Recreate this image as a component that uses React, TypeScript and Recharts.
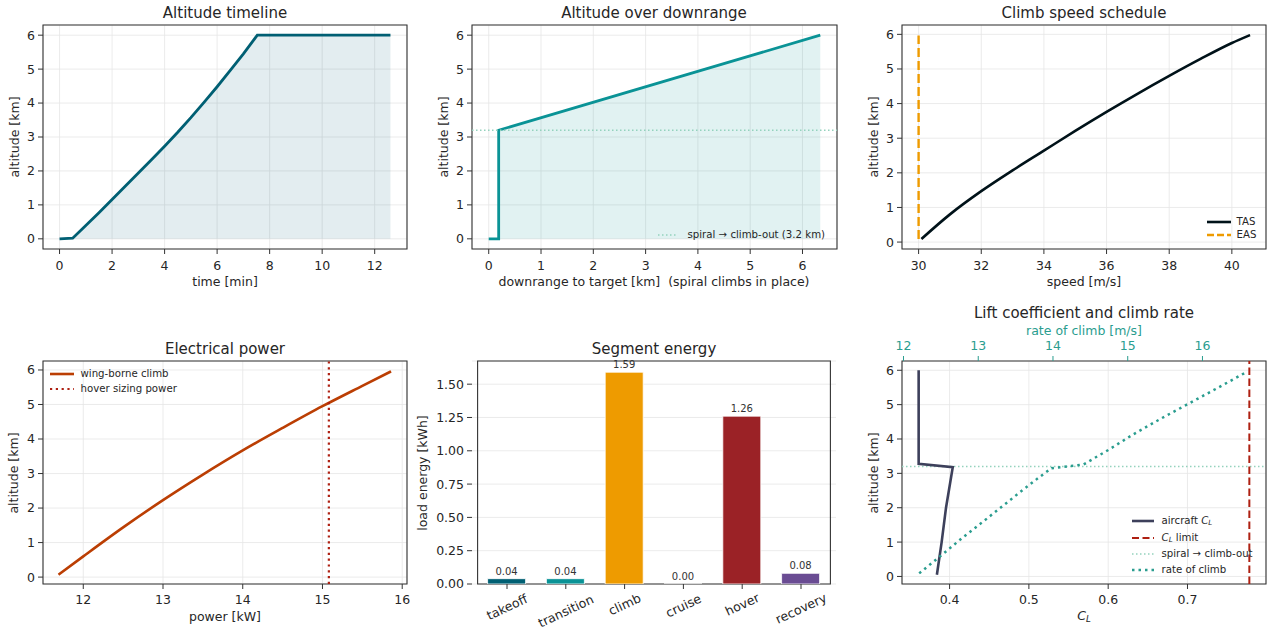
import React from "react";
import {
  ComposedChart,
  BarChart,
  Bar,
  Line,
  Area,
  XAxis,
  YAxis,
  CartesianGrid,
  ReferenceLine,
  ReferenceArea,
  Cell,
  LabelList,
} from "recharts";

const FONT = '"DejaVu Sans", Verdana, sans-serif';
const INK = "#262626";
const FRAME = "#333333";
const GRID = "#e6e6e6";
const TICK_FS = 12.5;
const LABEL_FS = 12.5;
const TITLE_FS = 15;
const LEGEND_FS = 10.2;

// palette
const DEEP = "#005f73";
const TEAL = "#0a9396";
const MINT = "#94d2bd";
const AMBER = "#ee9b00";
const RUST = "#bb3e03";
const RED = "#ae2012";
const WINE = "#9b2226";
const NIGHT = "#001219";
const SLATE = "#3d405b";
const SEA = "#2a9d8f";
const PLUM = "#6a4c93";

// ---- mission data ----
const SPIRAL_ALT_KM = 3.2;
const ALT_TICKS = [0, 1, 2, 3, 4, 5, 6];

// altitude timeline
const timelineMin = [0, 0.5, 1, 1.5, 2, 2.5, 3, 3.5, 4, 4.5, 5, 5.5, 6, 6.5, 7, 7.53, 12.6];
const timelineAltKm = [0, 0.02, 0.39, 0.77, 1.16, 1.55, 1.94, 2.33, 2.73, 3.14, 3.57, 4.02, 4.48, 4.96, 5.45, 6.0, 6.0];

// ground track: spiral in place, then straight climb-out
const downrangeKm = [0, 0.19, 0.19, 6.34];
const downrangeAltKm = [0, 0, 3.2, 6.0];

// speed schedule
const tasMs = [30.09, 31, 32, 33, 34, 35, 36, 37, 38, 39, 40, 40.58];
const tasAltKm = [0.09, 0.8, 1.47, 2.07, 2.64, 3.21, 3.76, 4.29, 4.8, 5.29, 5.75, 5.98];
const easMs = [30, 30];
const easAltKm = [0.09, 5.97];

// electrical power
const powerKw = [11.69, 12, 12.5, 13, 13.5, 14, 14.5, 15, 15.5, 15.86];
const powerAltKm = [0.07, 0.6, 1.44, 2.23, 2.97, 3.67, 4.32, 4.95, 5.54, 5.96];
const HOVER_SIZING_KW = 15.08;

// segment energy
const segments = ["takeoff", "transition", "climb", "cruise", "hover", "recovery"];
const segmentKwh = [0.04, 0.04, 1.59, 0.0, 1.26, 0.08];
const segmentColors = [DEEP, TEAL, AMBER, MINT, WINE, PLUM];

// lift coefficient + rate of climb
const clValue = [0.384, 0.39, 0.3955, 0.404, 0.361, 0.361];
const clAltKm = [0.05, 1.0, 2.0, 3.18, 3.28, 6.0];
const CL_LIMIT = 0.778;
const rocMs = [12.21, 12.47, 12.78, 13.16, 13.54, 13.8, 13.98, 14.41, 14.74, 15.07, 15.45, 15.79, 16.19, 16.59];
const rocAltKm = [0.09, 0.55, 1.11, 1.76, 2.42, 2.86, 3.15, 3.26, 3.68, 4.13, 4.6, 5.0, 5.47, 5.95];

const pairs = (xs: number[], ys: number[]) => xs.map((x, i) => ({ x, y: ys[i] }));
const timelineRows = pairs(timelineMin, timelineAltKm);
const downrangeRows = pairs(downrangeKm, downrangeAltKm);
const tasRows = pairs(tasMs, tasAltKm);
const easRows = pairs(easMs, easAltKm);
const powerRows = pairs(powerKw, powerAltKm);
const clRows = pairs(clValue, clAltKm);
const rocRows = pairs(rocMs, rocAltKm);
const energyRows = segments.map((segment, i) => ({ segment, kwh: segmentKwh[i] }));

// ---- layout helpers ----
type Box = { x: number; y: number; w: number; h: number };
const PAD_L = 50;
const PAD_R = 12;
const PAD_T = 10;

const BOX1: Box = { x: 43, y: 25, w: 364, h: 224 };
const BOX2: Box = { x: 472, y: 25, w: 365, h: 224 };
const BOX3: Box = { x: 902, y: 25, w: 364, h: 224 };
const BOX4: Box = { x: 43, y: 361, w: 364, h: 223 };
const BOX5: Box = { x: 472, y: 361, w: 364, h: 223 };
const BOX6: Box = { x: 902, y: 361, w: 364, h: 223 };

function frame(box: Box, bottom = 34, top = 0) {
  return {
    style: { position: "absolute" as const, left: box.x - PAD_L, top: box.y - PAD_T - top },
    width: box.w + PAD_L + PAD_R,
    height: box.h + PAD_T + top + bottom,
    margin: { top: PAD_T, right: PAD_R, bottom: 0, left: 0 },
  };
}

const tickStyle = { fontSize: TICK_FS, fill: INK, fontFamily: FONT };

function numX(domain: number[], ticks: number[], margin = 7) {
  return {
    type: "number" as const,
    dataKey: "x",
    domain,
    ticks,
    allowDataOverflow: true,
    interval: 0 as const,
    axisLine: false,
    tickLine: { stroke: FRAME },
    tickSize: 5,
    tickMargin: margin,
    height: 34,
    tick: tickStyle,
  };
}

function altY(domain: number[], ticks = ALT_TICKS) {
  return {
    type: "number" as const,
    domain,
    ticks,
    allowDataOverflow: true,
    interval: 0 as const,
    axisLine: false,
    tickLine: { stroke: FRAME },
    tickSize: 5,
    tickMargin: 3,
    width: PAD_L,
    tick: tickStyle,
  };
}

function border(yDomain: number[]) {
  return {
    y1: yDomain[0],
    y2: yDomain[1],
    fill: "none",
    stroke: FRAME,
    strokeWidth: 1.1,
    ifOverflow: "visible" as const,
  };
}

const noDots = { dot: false, activeDot: false, isAnimationActive: false } as const;

function Txt({
  x,
  y,
  size = LABEL_FS,
  rotate = 0,
  color = INK,
  children,
}: {
  x: number;
  y: number;
  size?: number;
  rotate?: number;
  color?: string;
  children: React.ReactNode;
}) {
  return (
    <div
      style={{
        position: "absolute",
        left: x,
        top: y,
        transform: `translate(-50%, -50%) rotate(${rotate}deg)`,
        fontSize: size,
        color,
        whiteSpace: "pre",
        lineHeight: 1,
      }}
    >
      {children}
    </div>
  );
}

type KeyRow = { y: number; label: React.ReactNode; color: string; width: number; dash?: string };

function KeyBox({ x0, x1, tx, rows }: { x0: number; x1: number; tx: number; rows: KeyRow[] }) {
  return (
    <>
      {rows.map((r, i) => (
        <React.Fragment key={i}>
          <svg
            style={{ position: "absolute", left: x0, top: r.y - 5 }}
            width={x1 - x0}
            height={10}
          >
            <line
              x1={0}
              x2={x1 - x0}
              y1={5}
              y2={5}
              stroke={r.color}
              strokeWidth={r.width}
              strokeDasharray={r.dash}
            />
          </svg>
          <div
            style={{
              position: "absolute",
              left: tx,
              top: r.y,
              transform: "translateY(-50%)",
              fontSize: LEGEND_FS,
              lineHeight: 1,
              whiteSpace: "nowrap",
              color: INK,
            }}
          >
            {r.label}
          </div>
        </React.Fragment>
      ))}
    </>
  );
}

const CL = () => (
  <i>
    C<sub style={{ fontSize: "0.7em", verticalAlign: "-0.25em" }}>L</sub>
  </i>
);

function SegmentTick(props: any) {
  const { x, y, payload } = props;
  const label = String(payload.value);
  const rad = (25 * Math.PI) / 180;
  const w = label.length * 6.3;
  const half = (w * Math.sin(rad) + TICK_FS * Math.cos(rad)) / 2;
  const cy = y + 1 + half;
  return (
    <text
      x={x}
      y={cy}
      transform={`rotate(-25 ${x} ${cy})`}
      textAnchor="middle"
      dominantBaseline="central"
      fontSize={TICK_FS}
      fill={INK}
      fontFamily={FONT}
    >
      {label}
    </text>
  );
}

export default function App() {
  const f1 = frame(BOX1);
  const f2 = frame(BOX2);
  const f3 = frame(BOX3);
  const f4 = frame(BOX4);
  const f5 = frame(BOX5, 50);
  const f6 = frame(BOX6, 34, 30);

  const y1 = [-0.3, 6.3];
  const y3 = [-0.2, 6.27];
  const y4 = [-0.2, 6.26];
  const y5 = [0, 1.674];
  const y6 = [-0.22, 6.27];

  return (
    <div
      style={{
        position: "fixed",
        left: 0,
        top: 0,
        width: 1269,
        height: 631,
        background: "#fff",
        fontFamily: FONT,
        color: INK,
        overflow: "hidden",
      }}
    >
      {/* Altitude timeline */}
      <div style={f1.style}>
        <ComposedChart width={f1.width} height={f1.height} margin={f1.margin}>
          <CartesianGrid stroke={GRID} strokeWidth={0.8} />
          <XAxis {...numX([-0.63, 13.23], [0, 2, 4, 6, 8, 10, 12])} />
          <YAxis {...altY(y1)} />
          <Area
            data={timelineRows}
            dataKey="y"
            type="linear"
            stroke={DEEP}
            strokeWidth={2.8}
            fill={DEEP}
            fillOpacity={0.11}
            baseValue={0}
            {...noDots}
          />
          <ReferenceArea {...border(y1)} />
        </ComposedChart>
      </div>

      {/* Altitude over downrange */}
      <div style={f2.style}>
        <ComposedChart width={f2.width} height={f2.height} margin={f2.margin}>
          <CartesianGrid stroke={GRID} strokeWidth={0.8} />
          <XAxis {...numX([-0.32, 6.66], [0, 1, 2, 3, 4, 5, 6])} />
          <YAxis {...altY(y1)} />
          <Area
            data={downrangeRows}
            dataKey="y"
            type="linear"
            stroke={TEAL}
            strokeWidth={2.8}
            fill={TEAL}
            fillOpacity={0.12}
            baseValue={0}
            {...noDots}
          />
          <ReferenceLine y={SPIRAL_ALT_KM} stroke={MINT} strokeWidth={1.5} strokeDasharray="1.5 2.5" />
          <ReferenceArea {...border(y1)} />
        </ComposedChart>
      </div>

      {/* Climb speed schedule */}
      <div style={f3.style}>
        <ComposedChart width={f3.width} height={f3.height} margin={f3.margin}>
          <CartesianGrid stroke={GRID} strokeWidth={0.8} />
          <XAxis {...numX([29.47, 41.09], [30, 32, 34, 36, 38, 40])} />
          <YAxis {...altY(y3)} />
          <Line data={tasRows} dataKey="y" type="monotone" stroke={NIGHT} strokeWidth={2.6} {...noDots} />
          <Line
            data={easRows}
            dataKey="y"
            type="linear"
            stroke={AMBER}
            strokeWidth={2.4}
            strokeDasharray="9 4"
            {...noDots}
          />
          <ReferenceArea {...border(y3)} />
        </ComposedChart>
      </div>

      {/* Electrical power */}
      <div style={f4.style}>
        <ComposedChart width={f4.width} height={f4.height} margin={f4.margin}>
          <CartesianGrid stroke={GRID} strokeWidth={0.8} />
          <XAxis {...numX([11.495, 16.06], [12, 13, 14, 15, 16], 6)} />
          <YAxis {...altY(y4)} />
          <Line data={powerRows} dataKey="y" type="monotone" stroke={RUST} strokeWidth={2.6} {...noDots} />
          <ReferenceLine x={HOVER_SIZING_KW} stroke={RED} strokeWidth={2.2} strokeDasharray="2.2 3.6" />
          <ReferenceArea {...border(y4)} />
        </ComposedChart>
      </div>

      {/* Segment energy */}
      <div style={f5.style}>
        <BarChart width={f5.width} height={f5.height} margin={f5.margin} data={energyRows}>
          <CartesianGrid stroke={GRID} strokeWidth={0.8} vertical={false} />
          <XAxis
            dataKey="segment"
            padding={{ left: 5.6, right: 5.6 }}
            interval={0}
            axisLine={false}
            tickLine={{ stroke: FRAME }}
            tickSize={5}
            tickMargin={2}
            height={50}
            tick={<SegmentTick />}
          />
          <YAxis
            {...altY(y5, [0, 0.25, 0.5, 0.75, 1.0, 1.25, 1.5])}
            tickFormatter={(v: number) => v.toFixed(2)}
          />
          <Bar
            dataKey="kwh"
            barSize={38}
            minPointSize={0.01}
            stroke="#ffffff"
            strokeWidth={0.8}
            isAnimationActive={false}
          >
            {energyRows.map((row, i) => (
              <Cell key={row.segment} fill={segmentColors[i]} />
            ))}
            <LabelList
              dataKey="kwh"
              position="top"
              offset={4}
              formatter={(v: any) => Number(v).toFixed(2)}
              fontSize={10}
              fill="#333"
              fontFamily={FONT}
            />
          </Bar>
          <ReferenceArea {...border(y5)} />
        </BarChart>
      </div>

      {/* Lift coefficient and climb rate */}
      <div style={f6.style}>
        <ComposedChart width={f6.width} height={f6.height} margin={f6.margin}>
          <CartesianGrid stroke={GRID} strokeWidth={0.8} />
          <XAxis
            {...numX([0.34, 0.799], [0.4, 0.5, 0.6, 0.7], 6)}
            tickFormatter={(v: number) => v.toFixed(1)}
          />
          <XAxis
            xAxisId="top"
            orientation="top"
            type="number"
            dataKey="x"
            domain={[11.98, 16.85]}
            ticks={[12, 13, 14, 15, 16]}
            allowDataOverflow
            interval={0}
            axisLine={false}
            tickLine={{ stroke: SEA }}
            tickSize={5}
            tickMargin={6}
            height={30}
            tick={{ ...tickStyle, fill: SEA }}
          />
          <YAxis {...altY(y6)} />
          <ReferenceLine y={SPIRAL_ALT_KM} stroke={MINT} strokeWidth={1.5} strokeDasharray="1.5 2.5" />
          <Line data={clRows} dataKey="y" type="linear" stroke={SLATE} strokeWidth={2.6} {...noDots} />
          <ReferenceLine x={CL_LIMIT} stroke={RED} strokeWidth={2} strokeDasharray="7.5 3.5" />
          <Line
            data={rocRows}
            xAxisId="top"
            dataKey="y"
            type="linear"
            stroke={SEA}
            strokeWidth={2.5}
            strokeDasharray="2.5 4"
            {...noDots}
          />
          <ReferenceArea {...border(y6)} />
        </ComposedChart>
      </div>

      {/* titles */}
      <Txt x={225} y={13} size={TITLE_FS}>Altitude timeline</Txt>
      <Txt x={654} y={13} size={TITLE_FS}>Altitude over downrange</Txt>
      <Txt x={1084} y={13} size={TITLE_FS}>Climb speed schedule</Txt>
      <Txt x={225} y={348.5} size={TITLE_FS}>Electrical power</Txt>
      <Txt x={654} y={348.5} size={TITLE_FS}>Segment energy</Txt>
      <Txt x={1084} y={313} size={TITLE_FS}>Lift coefficient and climb rate</Txt>

      {/* axis labels */}
      <Txt x={225} y={282}>time [min]</Txt>
      <Txt x={654} y={282}>downrange to target [km]  (spiral climbs in place)</Txt>
      <Txt x={1084} y={282}>speed [m/s]</Txt>
      <Txt x={225} y={617}>power [kW]</Txt>
      <Txt x={1084} y={617}>
        <CL />
      </Txt>
      <Txt x={1084} y={331} color={SEA}>rate of climb [m/s]</Txt>
      <Txt x={15} y={137} rotate={-90}>altitude [km]</Txt>
      <Txt x={443.5} y={137} rotate={-90}>altitude [km]</Txt>
      <Txt x={873.5} y={137} rotate={-90}>altitude [km]</Txt>
      <Txt x={14} y={472.5} rotate={-90}>altitude [km]</Txt>
      <Txt x={423} y={472.5} rotate={-90}>load energy [kWh]</Txt>
      <Txt x={873.5} y={472.5} rotate={-90}>altitude [km]</Txt>

      {/* legends */}
      <KeyBox
        x0={658}
        x1={678}
        tx={687.5}
        rows={[{ y: 235, label: "spiral → climb-out (3.2 km)", color: MINT, width: 1.5, dash: "1.5 2.5" }]}
      />
      <KeyBox
        x0={1207}
        x1={1231}
        tx={1236.5}
        rows={[
          { y: 221.5, label: "TAS", color: NIGHT, width: 2.6 },
          { y: 234.5, label: "EAS", color: AMBER, width: 2.4, dash: "7 3" },
        ]}
      />
      <KeyBox
        x0={50}
        x1={74}
        tx={80.5}
        rows={[
          { y: 373.5, label: "wing-borne climb", color: RUST, width: 2.6 },
          { y: 388.5, label: "hover sizing power", color: RED, width: 2.2, dash: "2.2 3.6" },
        ]}
      />
      <KeyBox
        x0={1131.5}
        x1={1154}
        tx={1161.5}
        rows={[
          { y: 520.5, label: <>aircraft <CL /></>, color: SLATE, width: 2.6 },
          { y: 537.5, label: <><CL /> limit</>, color: RED, width: 2, dash: "7 3.5" },
          { y: 554, label: "spiral → climb-out", color: MINT, width: 1.5, dash: "1.5 2.5" },
          { y: 570, label: "rate of climb", color: SEA, width: 2.5, dash: "2.5 4" },
        ]}
      />
    </div>
  );
}
